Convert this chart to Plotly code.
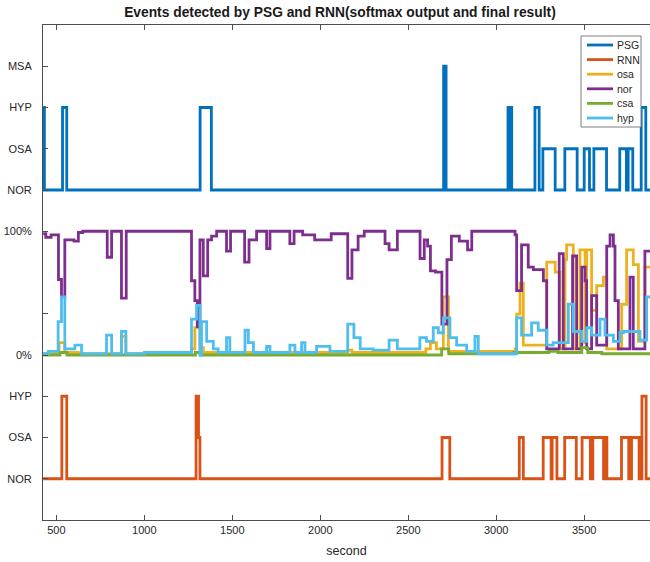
import plotly.graph_objects as go

T_END = 3874

# ---- PSG (step, levels: NOR, OSA, HYP, MSA) ----
psg_t = [425, 432, 535, 559, 1317, 1381, 2701, 2715, 3067, 3074, 3079, 3088, 3220, 3244,
         3265, 3335, 3390, 3460, 3500, 3530, 3555, 3627, 3702, 3740, 3750, 3776, 3824, 3850]
psg_s = ["HYP", "NOR", "HYP", "NOR", "HYP", "NOR", "MSA", "NOR", "HYP", "NOR", "HYP", "NOR", "HYP", "NOR",
         "OSA", "NOR", "OSA", "NOR", "OSA", "NOR", "OSA", "NOR", "OSA", "NOR", "OSA", "NOR", "HYP", "NOR"]

# ---- RNN final result (levels: NOR, OSA, HYP) ----
rnn_t = [425, 531, 559, 1294, 1308, 1316, 2692, 2736, 3131, 3154, 3267, 3312, 3318, 3345,
         3389, 3455, 3488, 3535, 3549, 3610, 3616, 3629, 3712, 3753, 3769, 3812, 3828, 3852]
rnn_s = ["NOR", "HYP", "NOR", "HYP", "OSA", "NOR", "OSA", "NOR", "OSA", "NOR", "OSA", "NOR", "OSA", "NOR",
         "OSA", "NOR", "OSA", "NOR", "OSA", "NOR", "OSA", "NOR", "OSA", "NOR", "OSA", "NOR", "HYP", "NOR"]

# ---- softmax outputs (probability 0..1) ----
osa_t = [425, 500, 515, 548, 625, 870, 895, 1268, 1287, 1316, 1335, 2156, 2180, 2600, 2626, 2660, 2699, 2728,
         3107, 3116, 3135, 3154, 3287, 3335, 3362, 3391, 3400, 3438, 3476, 3505, 3514, 3542, 3571, 3609,
         3628, 3713, 3741, 3779, 3808, 3845]
osa_p = [0.01, 0.02, 0.10, 0.02, 0.01, 0.15, 0.01, 0.05, 0.22, 0.06, 0.02, 0.04, 0.02, 0.05, 0.10, 0.05, 0.47, 0.03,
         0.05, 0.33, 0.58, 0.08, 0.75, 0.67, 0.05, 0.77, 0.89, 0.05, 0.85, 0.10, 0.85, 0.36, 0.56, 0.63,
         0.05, 0.41, 0.85, 0.73, 0.11, 0.71]

nor_t = [425, 440, 470, 512, 529, 548, 600, 625, 650, 789, 814, 870, 897, 1268, 1287, 1301, 1316, 1335, 1360,
         1382, 1411, 1467, 1490, 1570, 1595, 1638, 1695, 1714, 1827, 1851, 1900, 1968, 2062, 2156, 2180, 2215,
         2250, 2368, 2391, 2438, 2567, 2591, 2610, 2626, 2655, 2691, 2720, 2745, 2790, 2837, 2861, 3107, 3116,
         3144, 3182, 3211, 3268, 3287, 3358, 3381, 3434, 3457, 3486, 3505, 3514, 3542, 3571, 3628, 3647, 3666,
         3675, 3694, 3760, 3779, 3845]
nor_p = [0.98, 0.95, 0.97, 0.61, 0.47, 0.93, 0.92, 0.99, 1.00, 0.79, 1.00, 0.46, 1.00, 0.60, 0.44, 0.23, 0.93, 0.64, 0.93,
         0.96, 1.00, 0.84, 1.00, 0.75, 0.93, 1.00, 0.86, 1.00, 0.90, 1.00, 0.97, 0.93, 0.98, 0.62, 0.85, 0.96,
         1.00, 0.90, 0.85, 1.00, 0.78, 0.93, 0.88, 0.68, 0.67, 0.25, 0.77, 0.96, 0.92, 0.85, 1.00, 0.97, 0.52,
         0.89, 0.71, 0.69, 0.60, 0.05, 0.82, 0.05, 0.80, 0.05, 0.71, 0.60, 0.05, 0.48, 0.08, 0.88, 0.97, 0.88,
         0.44, 0.05, 0.63, 0.05, 0.84]

csa_t = [425, 520, 560, 1290, 1320, 2690, 2730, 3100, 3300, 3350, 3486, 3520, 3600]
csa_p = [0.00, 0.02, 0.00, 0.02, 0.00, 0.05, 0.01, 0.02, 0.03, 0.02, 0.06, 0.02, 0.01]

hyp_t = [425, 454, 510, 529, 548, 605, 643, 785, 814, 870, 895, 1000, 1268, 1297, 1316, 1325, 1354, 1392, 1420,
         1467, 1486, 1572, 1591, 1620, 1695, 1714, 1827, 1856, 1894, 1913, 1979, 2055, 2156, 2191, 2227, 2300,
         2391, 2438, 2566, 2604, 2642, 2671, 2699, 2737, 2775, 2832, 2879, 2898, 3116, 3144, 3201, 3239, 3287,
         3324, 3410, 3438, 3486, 3514, 3542, 3590, 3618, 3666, 3703, 3722, 3817, 3855]
hyp_p = [0.01, 0.03, 0.27, 0.47, 0.05, 0.08, 0.01, 0.16, 0.01, 0.19, 0.01, 0.02, 0.29, 0.40, 0.00, 0.27, 0.11, 0.05, 0.02,
         0.14, 0.02, 0.20, 0.10, 0.02, 0.07, 0.02, 0.08, 0.02, 0.10, 0.02, 0.07, 0.03, 0.25, 0.14, 0.05, 0.04,
         0.12, 0.05, 0.14, 0.11, 0.22, 0.18, 0.30, 0.14, 0.08, 0.03, 0.15, 0.01, 0.30, 0.16, 0.26, 0.20, 0.08,
         0.10, 0.41, 0.19, 0.11, 0.22, 0.16, 0.29, 0.16, 0.11, 0.18, 0.19, 0.12, 0.47]

# y-axis tick labels (bottom to top)
tick_vals = [0, 1, 2, 3, 4, 6, 7, 8, 9, 10]
tick_text = ["NOR", "OSA", "HYP", "0%", "", "100%", "NOR", "OSA", "HYP", "MSA"]

# stacked band positions
rnn_level = {"NOR": 0, "OSA": 1, "HYP": 2}
psg_level = {"NOR": 7, "OSA": 8, "HYP": 9, "MSA": 10}
P0, PSPAN = 3, 3

def ext(t, v):
    return list(t) + [T_END], list(v) + [v[-1]]

fig = go.Figure()
LW = 2.8
series = [
    ("PSG", psg_t, [psg_level[s] for s in psg_s], "#0072BD"),
    ("RNN", rnn_t, [rnn_level[s] for s in rnn_s], "#D95319"),
    ("osa", osa_t, [P0 + PSPAN * p for p in osa_p], "#EDB120"),
    ("nor", nor_t, [P0 + PSPAN * p for p in nor_p], "#7E2F8E"),
    ("csa", csa_t, [P0 + PSPAN * p for p in csa_p], "#77AC30"),
    ("hyp", hyp_t, [P0 + PSPAN * p for p in hyp_p], "#4DBEEE"),
]
for name, t, v, c in series:
    x, y = ext(t, v)
    fig.add_trace(go.Scatter(x=x, y=y, mode="lines", name=name, showlegend=False,
                             line=dict(color=c, width=LW, shape="hv")))

# ---- compact MATLAB-style legend (paper coordinates) ----
W, H = 650, 562
ML, MR, MT, MB = 43, 0, 25, 42
pw, ph = W - ML - MR, H - MT - MB
def px(x):
    return (x - ML) / pw
def py(y):
    return (H - MB - y) / ph

shapes = [dict(type="rect", xref="paper", yref="paper", x0=px(581), x1=px(641), y0=py(127), y1=py(36),
               line=dict(color="#7f7f7f", width=1), fillcolor="white", layer="above")]
annotations = []
for i, (name, _, _, c) in enumerate(series):
    yy = 45 + i * 14.6
    shapes.append(dict(type="line", xref="paper", yref="paper", x0=px(587), x1=px(613), y0=py(yy), y1=py(yy),
                       line=dict(color=c, width=LW), layer="above"))
    annotations.append(dict(text=name, xref="paper", yref="paper", x=px(614.5), y=py(yy), xanchor="left",
                            yanchor="middle", showarrow=False, font=dict(size=10.5, color="#262626")))

axis_col = "#4d4d4d"
fig.update_layout(
    width=W, height=H,
    margin=dict(l=ML, r=MR, t=MT, b=MB),
    paper_bgcolor="white", plot_bgcolor="white",
    font=dict(family="Liberation Sans, Arial, sans-serif", size=11, color="#262626"),
    title=dict(text="<b>Events detected by PSG and RNN(softmax output and final result)</b>",
               x=0.523, xref="container", xanchor="center", y=0.978, yref="container", yanchor="middle",
               font=dict(size=13.8, color="#1a1a1a")),
    showlegend=False,
    shapes=shapes, annotations=annotations,
    xaxis=dict(range=[424, T_END], tickvals=[500, 1000, 1500, 2000, 2500, 3000, 3500],
               ticks="inside", ticklen=5, tickcolor=axis_col, showline=True, linecolor=axis_col,
               linewidth=1, mirror="ticks", showgrid=False, zeroline=False,
               title=dict(text="second", standoff=11, font=dict(size=12.5)), tickfont=dict(size=11)),
    yaxis=dict(range=[-1, 11], tickvals=tick_vals, ticktext=tick_text, ticks="inside", ticklen=5,
               tickcolor=axis_col, showline=True, linecolor=axis_col, linewidth=1, showgrid=False,
               zeroline=False, ticklabelstandoff=8, tickfont=dict(size=11)),
)
fig.write_html("out.html")
